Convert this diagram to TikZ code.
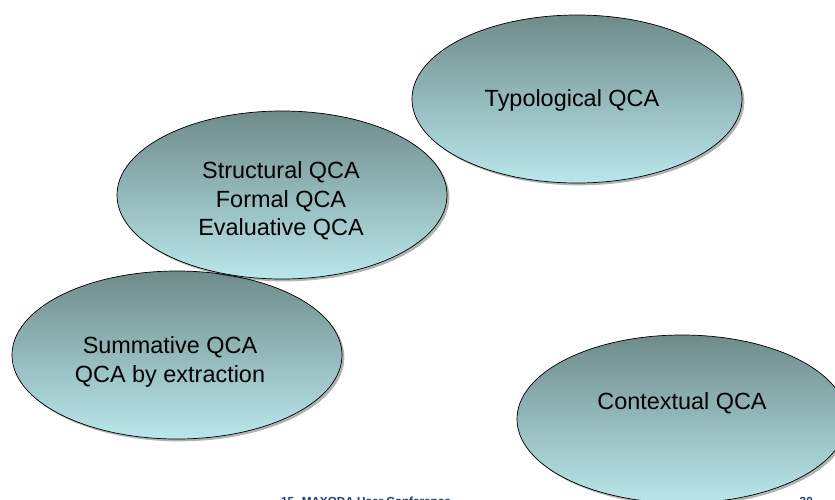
\documentclass[tikz,border=0pt]{standalone}
\usepackage{fontspec}
\setmainfont{Liberation Sans}
\usepackage{xcolor}
\usepackage{tikz}
\usetikzlibrary{shapes.geometric, shadows}
\definecolor{OvalTop}{HTML}{6E8B8B}
\definecolor{OvalBottom}{HTML}{BAE7EB}
\definecolor{FooterBlue}{HTML}{1F3A6E}

\begin{document}
\begin{tikzpicture}[
  x=0.03cm, y=-0.03cm,
  qcaoval/.style={ellipse, draw=black, line width=0.6pt, inner sep=0pt, minimum width=9.9cm, minimum height=5.04cm, top color=OvalTop, bottom color=OvalBottom, drop shadow={shadow xshift=2pt, shadow yshift=-2pt, fill=black, opacity=0.3}},
  qcalabel/.style={align=center, inner sep=0pt, font=\fontsize{20}{24.3}\selectfont},
  footer/.style={inner sep=0pt, font=\fontsize{10}{12}\selectfont\bfseries, text=FooterBlue}
  ]
  \clip (0,0) rectangle (835,499);
  \fill[white] (0,0) rectangle (835,499);
  % Typological
  \node[qcaoval] (typ) at (577,99) {};
  \node[qcalabel] (typtext) at (572,100) {Typological QCA};
  % Summative
  \node[qcaoval] (sum) at (177,355) {};
  \node[qcalabel] (sumtext) at (170,362) {Summative QCA\\QCA by extraction};
  % Contextual
  \node[qcaoval] (ctx) at (682,419) {};
  \node[qcalabel] (ctxtext) at (682,403) {Contextual QCA};
  % Structural
  \node[qcaoval] (str) at (282,195) {};
  \node[qcalabel] (strtext) at (281,201) {Structural QCA\\Formal QCA\\Evaluative QCA};
  % Footer
  \node[footer, anchor=base] (conf) at (366,505) {15. MAXQDA User Conference};
  \node[footer, anchor=base east] (pageno) at (813,505) {20};
\end{tikzpicture}
\end{document}
